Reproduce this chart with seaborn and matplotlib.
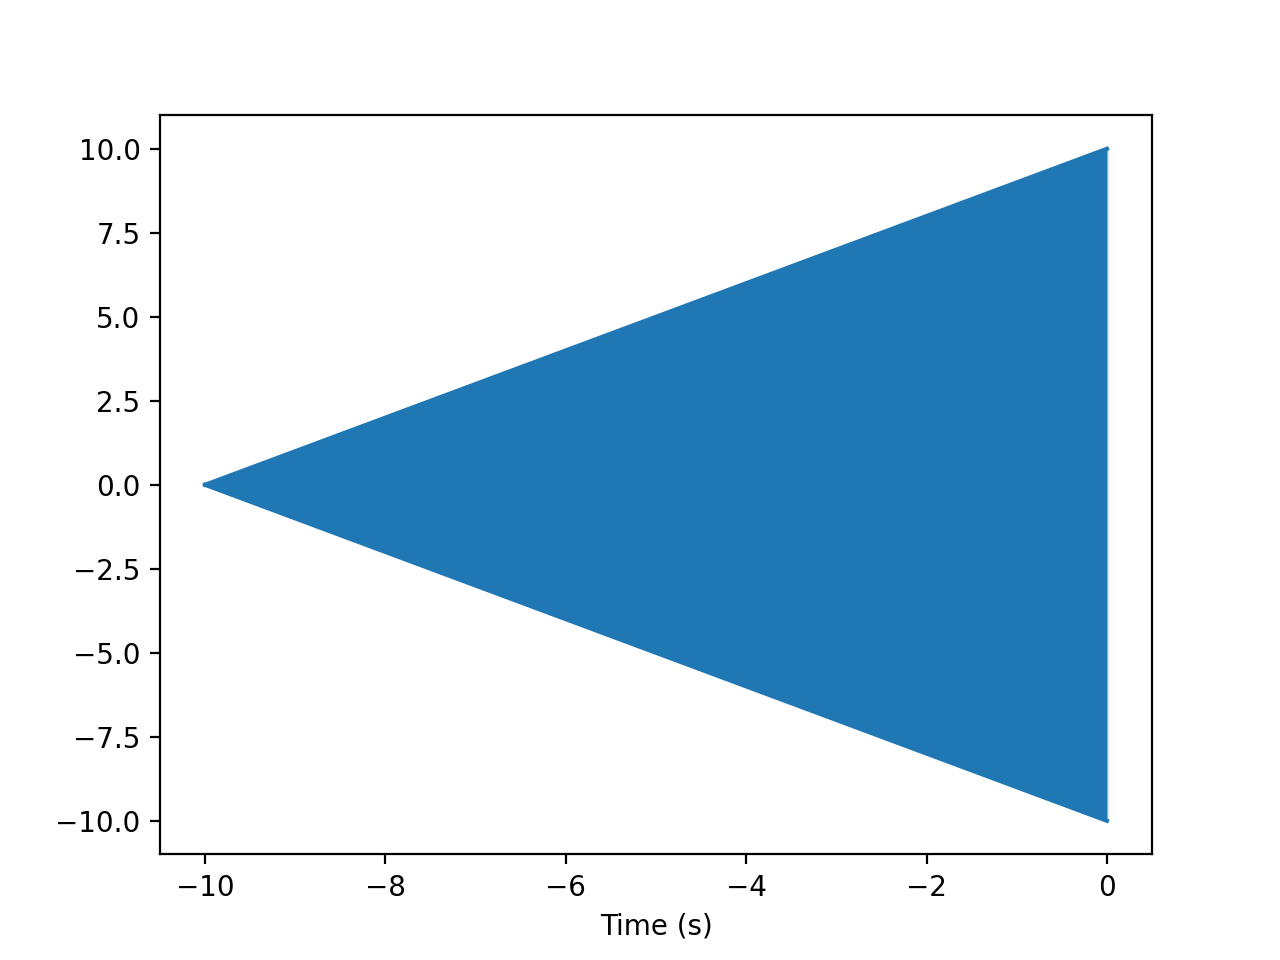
import seaborn as sns
import matplotlib.pyplot as plt
import pandas as pd

# Envolvente de la señal (amplitud crece linealmente hasta t=0)
time = [-10.0, 0.0]
upper = [0.0, 10.0]
lower = [0.0, -10.0]

df = pd.DataFrame({'time': time + time, 'value': upper + lower,
                   'edge': ['upper'] * 2 + ['lower'] * 2})

fig, ax = plt.subplots(figsize=(6.4, 4.8), dpi=200)
color = '#1f77b4'

ax.fill_between(time, lower, upper, color=color, linewidth=0)
sns.lineplot(data=df, x='time', y='value', units='edge', estimator=None,
             color=color, linewidth=1.5, ax=ax, legend=False)
# lado derecho de la señal
sns.lineplot(x=[time[-1], time[-1]], y=[lower[-1], upper[-1]],
             color=color, linewidth=1.5, ax=ax, legend=False)

ax.set_xlim(-10.5, 0.5)
ax.set_ylim(-11, 11)
ax.set_xlabel('Time (s)')
ax.set_ylabel('')
plt.savefig('out.png', dpi=200)
